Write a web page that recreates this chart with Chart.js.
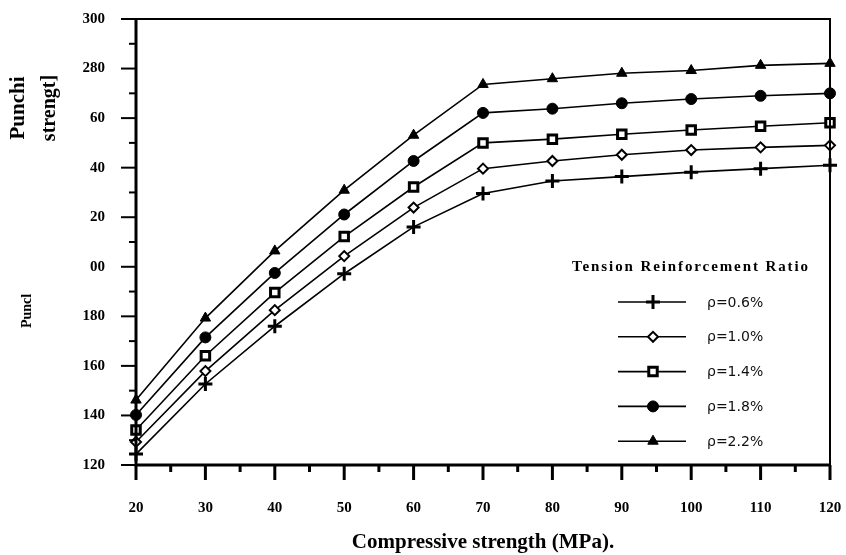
<!DOCTYPE html>
<html>
<head>
<meta charset="utf-8">
<script src="https://cdn.jsdelivr.net/npm/chart.js@4"></script>
<style>
  html, body { margin: 0; padding: 0; background: #fff; }
  #wrap { width: 846px; height: 555px; }
</style>
</head>
<body>
<div id="wrap"><canvas id="chart" width="846" height="555"></canvas></div>
<script>
// compressive strength (MPa)
const strength = [20, 30, 40, 50, 60, 70, 80, 90, 100, 110, 120];

// punching strength for each tension reinforcement ratio
const rho06 = [124.4, 152.7, 176.0, 197.2, 216.1, 229.6, 234.6, 236.4, 238.2, 239.6, 241.0];
const rho10 = [129.3, 157.9, 182.5, 204.3, 223.9, 239.6, 242.7, 245.2, 247.1, 248.2, 249.0];
const rho14 = [134.1, 164.1, 189.6, 212.2, 232.2, 250.0, 251.5, 253.5, 255.2, 256.7, 258.1];
const rho18 = [140.2, 171.5, 197.5, 221.1, 242.7, 262.1, 263.8, 266.0, 267.7, 269.0, 270.0];
const rho22 = [146.2, 179.3, 206.4, 230.9, 253.1, 273.6, 275.9, 278.1, 279.2, 281.3, 282.1];

const seriesNames = ['ρ=0.6%', 'ρ=1.0%', 'ρ=1.4%', 'ρ=1.8%', 'ρ=2.2%'];

// y tick labels as printed on the axis
const yTickLabels = {300: '300', 280: '280', 260: '60', 240: '40', 220: '20',
                     200: '00', 180: '180', 160: '160', 140: '140', 120: '120'};

const serif = '"Liberation Serif", "Times New Roman", serif';

function pts(vals) {
    return strength.map((x, i) => ({ x: x, y: vals[i] }));
}

function series(label, vals, style, radius, fill, bw) {
    return {
        label: label,
        data: pts(vals),
        borderColor: '#000',
        borderWidth: 1.6,
        pointStyle: style,
        pointRadius: radius,
        pointBackgroundColor: fill,
        pointBorderColor: '#000',
        pointBorderWidth: bw,
        clip: false,
        tension: 0
    };
}

const datasets = [
    series(seriesNames[0], rho06, 'cross', 7, '#000', 3),
    series(seriesNames[1], rho10, 'rectRot', 5, '#fff', 2),
    series(seriesNames[2], rho14, 'rect', 6, '#fff', 3),
    series(seriesNames[3], rho18, 'circle', 5.5, '#000', 1),
    series(seriesNames[4], rho22, 'triangle', 6, '#000', 1)
];

// frame, minor/major ticks, legend and y titles
const decorations = {
    id: 'decorations',
    afterDraw(chart) {
        const ctx = chart.ctx;
        const a = chart.chartArea;
        const xs = chart.scales.x, ys = chart.scales.y;
        ctx.save();
        ctx.strokeStyle = '#000';

        // top and right frame
        ctx.lineWidth = 2;
        ctx.beginPath();
        ctx.moveTo(a.left, a.top);
        ctx.lineTo(a.right, a.top);
        ctx.lineTo(a.right, a.bottom);
        ctx.stroke();

        // left and bottom axis lines
        ctx.lineWidth = 3;
        ctx.beginPath();
        ctx.moveTo(a.left, a.top - 1);
        ctx.lineTo(a.left, a.bottom);
        ctx.lineTo(a.right + 1, a.bottom);
        ctx.stroke();

        // x ticks
        for (let v = 20; v <= 120; v += 5) {
            const px = xs.getPixelForValue(v);
            const len = v % 10 === 0 ? 15 : 7;
            ctx.lineWidth = 3;
            ctx.beginPath();
            ctx.moveTo(px, a.bottom);
            ctx.lineTo(px, a.bottom + len);
            ctx.stroke();
        }
        // y ticks
        for (let v = 120; v <= 300; v += 10) {
            const py = ys.getPixelForValue(v);
            const len = v % 20 === 0 ? 15 : 7;
            ctx.lineWidth = 2;
            ctx.beginPath();
            ctx.moveTo(a.left, py);
            ctx.lineTo(a.left - len, py);
            ctx.stroke();
        }

        // legend
        ctx.fillStyle = '#000';
        ctx.font = 'bold 15px ' + serif;
        ctx.textAlign = 'left';
        ctx.textBaseline = 'middle';
        if ('letterSpacing' in ctx) ctx.letterSpacing = '1.9px';
        ctx.fillText('Tension Reinforcement Ratio', 572, 267);
        if ('letterSpacing' in ctx) ctx.letterSpacing = '0px';

        chart.data.datasets.forEach((ds, i) => {
            const y = 302 + i * 34.8;
            ctx.lineWidth = 1.6;
            ctx.strokeStyle = '#000';
            ctx.beginPath();
            ctx.moveTo(618, y);
            ctx.lineTo(686, y);
            ctx.stroke();
            ctx.fillStyle = ds.pointBackgroundColor;
            ctx.lineWidth = ds.pointBorderWidth;
            Chart.helpers.drawPoint(ctx, {
                pointStyle: ds.pointStyle,
                radius: ds.pointRadius,
                rotation: 0,
                borderWidth: ds.pointBorderWidth
            }, 653, y);
            ctx.fillStyle = '#111';
            ctx.font = '14px "DejaVu Sans", sans-serif';
            ctx.fillText(ds.label, 707, y + 1);
        });

        // y axis titles
        ctx.fillStyle = '#000';
        ctx.textAlign = 'center';
        ctx.textBaseline = 'middle';
        ctx.save();
        ctx.translate(19, 108);
        ctx.rotate(-Math.PI / 2);
        ctx.font = 'bold 21px ' + serif;
        ctx.fillText('Punchi', 0, 0);
        ctx.restore();
        ctx.save();
        ctx.translate(50, 108);
        ctx.rotate(-Math.PI / 2);
        ctx.font = 'bold 20px ' + serif;
        ctx.fillText('strengt]', 0, 0);
        ctx.restore();
        ctx.save();
        ctx.translate(27, 311);
        ctx.rotate(-Math.PI / 2);
        ctx.font = 'bold 14px ' + serif;
        ctx.fillText('Puncl', 0, 0);
        ctx.restore();

        ctx.restore();
    }
};

new Chart(document.getElementById('chart'), {
    type: 'line',
    data: { datasets: datasets },
    options: {
        responsive: false,
        animation: false,
        layout: { padding: { left: 0, right: 16, top: 19, bottom: 0 } },
        plugins: {
            legend: { display: false },
            tooltip: { enabled: false }
        },
        scales: {
            x: {
                type: 'linear',
                min: 20,
                max: 120,
                grid: { display: false },
                border: { display: false },
                ticks: {
                    stepSize: 10,
                    padding: 26,
                    color: '#000',
                    font: { family: serif, size: 15, weight: 'bold' },
                    maxRotation: 0
                },
                title: {
                    display: true,
                    text: 'Compressive strength (MPa).',
                    color: '#000',
                    font: { family: serif, size: 21, weight: 'bold' },
                    padding: { top: 8, bottom: 0 }
                },
                afterFit(scale) {
                    scale.height = 90;
                    scale.paddingLeft = 0;
                    scale.paddingRight = 0;
                }
            },
            y: {
                min: 120,
                max: 300,
                grid: { display: false },
                border: { display: false },
                ticks: {
                    stepSize: 20,
                    padding: 23,
                    color: '#000',
                    font: { family: serif, size: 15, weight: 'bold' },
                    callback: v => yTickLabels[v] ?? ''
                },
                afterFit(scale) {
                    scale.width = 136;
                    scale.paddingTop = 0;
                    scale.paddingBottom = 0;
                }
            }
        }
    },
    plugins: [decorations]
});
</script>
</body>
</html>
